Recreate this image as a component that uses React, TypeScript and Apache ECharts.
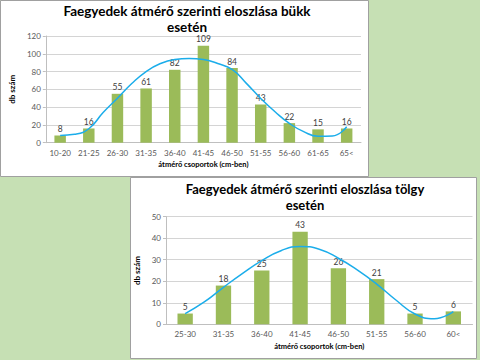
import React, { useEffect, useRef } from 'react';
import * as echarts from 'echarts';

const topCategories = ['10-20', '21-25', '26-30', '31-35', '36-40', '41-45', '46-50', '51-55', '56-60', '61-65', '65<'];
const topCounts = [8, 16, 55, 61, 82, 109, 84, 43, 22, 15, 16];
const topTrendPos = [0, 0.5, 1, 1.5, 2, 2.5, 3, 3.5, 4, 4.5, 5, 5.5, 6, 6.5, 7, 7.5, 8, 8.5, 9, 9.5, 10];
const topTrend = [8.2, 9.5, 15.7, 34, 50, 66.5, 80, 89, 93.6, 94.8, 93.6, 89, 82.4, 66.7, 49.8, 34.8, 21.7, 12.4, 7.3, 7.6, 18];

const bottomCategories = ['25-30', '31-35', '36-40', '41-45', '46-50', '51-55', '56-60', '60<'];
const bottomCounts = [5, 18, 25, 43, 26, 21, 5, 6];
const bottomTrendPos = [0, 0.5, 1, 1.5, 2, 2.5, 3, 3.5, 4, 4.5, 5, 5.5, 6, 6.5, 7];
const bottomTrend = [5, 10.4, 17.2, 23.7, 29.6, 34.2, 36.2, 34.9, 30.7, 25.2, 18.7, 11.3, 4.8, 2.6, 5.9];

const topTitle = 'Faegyedek átmérő szerinti eloszlása bükk\nesetén';
const bottomTitle = 'Faegyedek átmérő szerinti eloszlása tölgy\nesetén';
const xName = 'átmérő csoportok (cm-ben)';
const yName = 'db szám';

const FONT = 'Lato';
const BAR = '#9bbb59';
const TREND = '#1badea';
const GRIDC = '#d4d4d4';
const AXISC = '#bfbfbf';
const LABELC = '#595959';

export default function App() {
  const ref = useRef<HTMLDivElement>(null);
  useEffect(() => {
    const chart = echarts.init(ref.current!, null, { renderer: 'svg' });
    const catAxis = (gridIndex: number, data: string[], nameGap: number) => ({
      type: 'category',
      gridIndex,
      data,
      boundaryGap: true,
      axisLine: { show: true, onZero: false, lineStyle: { color: AXISC } },
      axisTick: { show: false },
      axisLabel: { color: LABELC, fontSize: 8, fontFamily: FONT, margin: 6 },
      name: xName,
      nameLocation: 'middle',
      nameGap,
      nameTextStyle: { fontSize: 7.5, fontWeight: 'bold', color: '#000', fontFamily: FONT },
    });
    const valAxis = (gridIndex: number, max: number, interval: number, nameGap: number) => ({
      type: 'value',
      gridIndex,
      min: 0,
      max,
      interval,
      axisLine: { show: true, onZero: false, lineStyle: { color: AXISC } },
      axisTick: { show: true, length: 3, lineStyle: { color: AXISC } },
      axisLabel: { color: LABELC, fontSize: 8, fontFamily: FONT, margin: 5 },
      splitLine: { show: true, lineStyle: { color: GRIDC } },
      name: yName,
      nameLocation: 'middle',
      nameRotate: 90,
      nameGap,
      nameTextStyle: { fontSize: 8, fontWeight: 'bold', color: '#000', fontFamily: FONT },
    });
    const hiddenX = (gridIndex: number, max: number) => ({
      type: 'value',
      gridIndex,
      min: -0.5,
      max,
      show: false,
      axisLine: { show: false, onZero: false },
      splitLine: { show: false },
    });
    const barLabel = { show: true, position: 'top', distance: 2, color: '#404040', fontSize: 8.5, fontFamily: FONT };
    chart.setOption({
      animation: false,
      graphic: [
        { type: 'rect', z: -20, silent: true, shape: { x: 0, y: 0, width: 480, height: 360 }, style: { fill: '#c6e0b4' } },
        { type: 'rect', z: -19, silent: true, shape: { x: 0.5, y: 0.5, width: 368, height: 176 }, style: { fill: '#ffffff', stroke: '#a0a0a0', lineWidth: 1 } },
        { type: 'rect', z: -19, silent: true, shape: { x: 130.5, y: 177.5, width: 346, height: 181 }, style: { fill: '#ffffff', stroke: '#a0a0a0', lineWidth: 1 } },
        {
          type: 'text', x: 187, y: 3,
          style: { text: topTitle, fill: '#000', font: `bold 13.5px ${FONT}`, lineHeight: 16, textAlign: 'center', align: 'center', textVerticalAlign: 'top', verticalAlign: 'top' },
        },
        {
          type: 'text', x: 305, y: 181,
          style: { text: bottomTitle, fill: '#000', font: `bold 13px ${FONT}`, lineHeight: 16, textAlign: 'center', align: 'center', textVerticalAlign: 'top', verticalAlign: 'top' },
        },
      ],
      grid: [
        { left: 33, top: 36, width: 328, height: 106.7, containLabel: false },
        { left: 166, top: 216.7, width: 306.5, height: 107.6, containLabel: false },
      ],
      xAxis: [
        catAxis(0, topCategories, 18),
        hiddenX(0, 10.5),
        catAxis(1, bottomCategories, 18),
        hiddenX(1, 7.5),
      ],
      yAxis: [
        valAxis(0, 120, 20, 20),
        valAxis(1, 50, 10, 17),
      ],
      series: [
        { type: 'bar', xAxisIndex: 0, yAxisIndex: 0, data: topCounts, barWidth: '40%', itemStyle: { color: BAR }, label: barLabel },
        {
          type: 'line', xAxisIndex: 1, yAxisIndex: 0, smooth: true, symbol: 'none', z: 3,
          data: topTrendPos.map((x, i) => [x, topTrend[i]]),
          lineStyle: { color: TREND, width: 1.5 },
        },
        { type: 'bar', xAxisIndex: 2, yAxisIndex: 1, data: bottomCounts, barWidth: '40%', itemStyle: { color: BAR }, label: barLabel },
        {
          type: 'line', xAxisIndex: 3, yAxisIndex: 1, smooth: true, symbol: 'none', z: 3,
          data: bottomTrendPos.map((x, i) => [x, bottomTrend[i]]),
          lineStyle: { color: TREND, width: 1.5 },
        },
      ],
    });
    return () => chart.dispose();
  }, []);
  return <div ref={ref} style={{ position: 'absolute', left: 0, top: 0, width: 480, height: 360 }} />;
}
